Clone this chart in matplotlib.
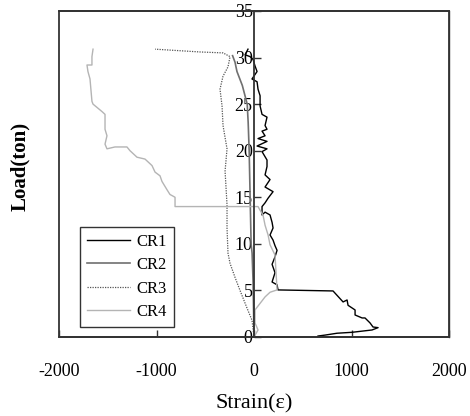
import matplotlib.pyplot as plt

plt.rcParams['font.family'] = ['Liberation Serif', 'DejaVu Serif']
plt.rcParams['axes.unicode_minus'] = False

# strain / load readings for each gauge
cr1_strain = [656, 728, 851, 1005, 1210, 1272, 1220, 1190, 1138, 1108, 1036, 1036, 964, 954, 913, 810,
              246, 236, 185, 215, 185, 215, 236, 215, 195, 164, 195, 185, 164, 113, 82, 82, 113, 144,
              195, 113, 164, 113, 133, 133, 82, 133, 31, 133, 41, 113, 82, 133, 113, 133, 82, 62, 62,
              41, 31, -21, 31, 10, -10, -41, -92, -62]
cr1_load = [0.1, 0.2, 0.4, 0.5, 0.75, 1.0, 1.07, 1.5, 2.04, 2.04, 2.36, 2.9, 3.4, 3.97, 3.76, 4.94,
            5.05, 5.6, 5.9, 6.9, 7.8, 8.6, 9.3, 9.8, 10.4, 10.95, 11.7, 12.3, 13.1, 13.4, 13.1, 14.0,
            14.4, 14.9, 15.6, 16.1, 16.9, 17.4, 18.3, 19.0, 19.9, 20.2, 20.5, 21.0, 21.3, 21.6, 22.1,
            22.3, 22.7, 23.6, 23.9, 24.8, 25.9, 26.6, 27.4, 27.7, 28.5, 29.1, 29.8, 30.1, 30.3, 30.9]

cr2_strain = [0, -5, -10, -20, -30, -40, -50, -60, -70, -120, -175, -195, -220]
cr2_load = [0, 3, 6, 9, 10, 15, 20, 23, 25, 27, 28.5, 29.5, 30.2]

cr3_strain = [0, -21, -72, -144, -195, -246, -267, -277, -277, -297, -277, -318, -328, -349, -318,
              -267, -246, -318, -554, -708, -862, -1015]
cr3_load = [0, 1.8, 3.1, 5.0, 6.4, 7.9, 9.0, 11.7, 14.2, 17.8, 20.2, 22.7, 24.8, 26.6, 28.0, 29.0,
            30.1, 30.5, 30.6, 30.7, 30.8, 30.9]

cr4_strain = [0, 41, 10, 10, 113, 164, 236, 215, 164, 144, 113, 92, 62, 41, -810, -810, -862, -892,
              -944, -964, -1015, -1046, -1087, -1118, -1200, -1272, -1303, -1426, -1508, -1528, -1508,
              -1528, -1528, -1559, -1651, -1662, -1682, -1703, -1713, -1662, -1662, -1651]
cr4_load = [0, 0.75, 1.5, 2.9, 4.3, 4.8, 5.05, 8.8, 9.9, 10.95, 12.0, 13.1, 13.6, 14.0, 14.0, 15.0,
            15.3, 15.8, 16.7, 17.3, 17.7, 18.4, 18.8, 19.1, 19.3, 20.0, 20.4, 20.4, 20.2, 20.7, 21.6,
            22.3, 23.9, 24.2, 25.0, 25.3, 27.7, 28.5, 29.2, 29.2, 30.1, 30.9]

x_ticks = [-2000, -1000, 0, 1000, 2000]
y_ticks = [0, 5, 10, 15, 20, 25, 30, 35]

fig = plt.figure(figsize=(4.7, 4.16), dpi=100)
ax = fig.add_axes([0.1255, 0.19, 0.83, 0.7836])

ax.plot(cr1_strain, cr1_load, color='black', lw=1.0, label='CR1')
ax.plot(cr2_strain, cr2_load, color='#707070', lw=1.2, label='CR2')
ax.plot(cr3_strain, cr3_load, color='#555555', lw=0.9, ls=(0, (1, 1)), label='CR3')
ax.plot(cr4_strain, cr4_load, color='#b4b4b4', lw=1.0, label='CR4')

ax.set_xlim(-2000, 2000)
ax.set_ylim(0, 35)
ax.set_xticks(x_ticks)
ax.set_yticks(y_ticks)

# y axis sits at strain = 0, outer frame drawn by the axes patch
ax.spines['left'].set_position(('data', 0))
for s in ['left', 'top', 'right', 'bottom']:
    ax.spines[s].set_color('#333333')
    ax.spines[s].set_linewidth(1.3)
ax.spines['right'].set_linewidth(1.0)
ax.patch.set_edgecolor('#222222')
ax.patch.set_linewidth(1.2)

ax.tick_params(axis='both', direction='in', labelsize=13, length=5, width=1, color='#333333')
ax.tick_params(axis='y', pad=1)
ax.tick_params(axis='x', pad=19)

ax.set_xlabel('Strain(\u03b5)', fontsize=16, labelpad=10)
fig.text(0.043, 0.60, 'Load(ton)', rotation=90, fontsize=15, fontweight='bold',
         ha='center', va='center')

leg = ax.legend(loc='lower left', bbox_to_anchor=(0.054, 0.031), borderaxespad=0,
                fontsize=12, frameon=True, fancybox=False, edgecolor='black',
                handlelength=2.6, handletextpad=0.4, labelspacing=0.45, borderpad=0.4)
leg.get_frame().set_linewidth(1.0)

fig.savefig('out.png', dpi=100)
